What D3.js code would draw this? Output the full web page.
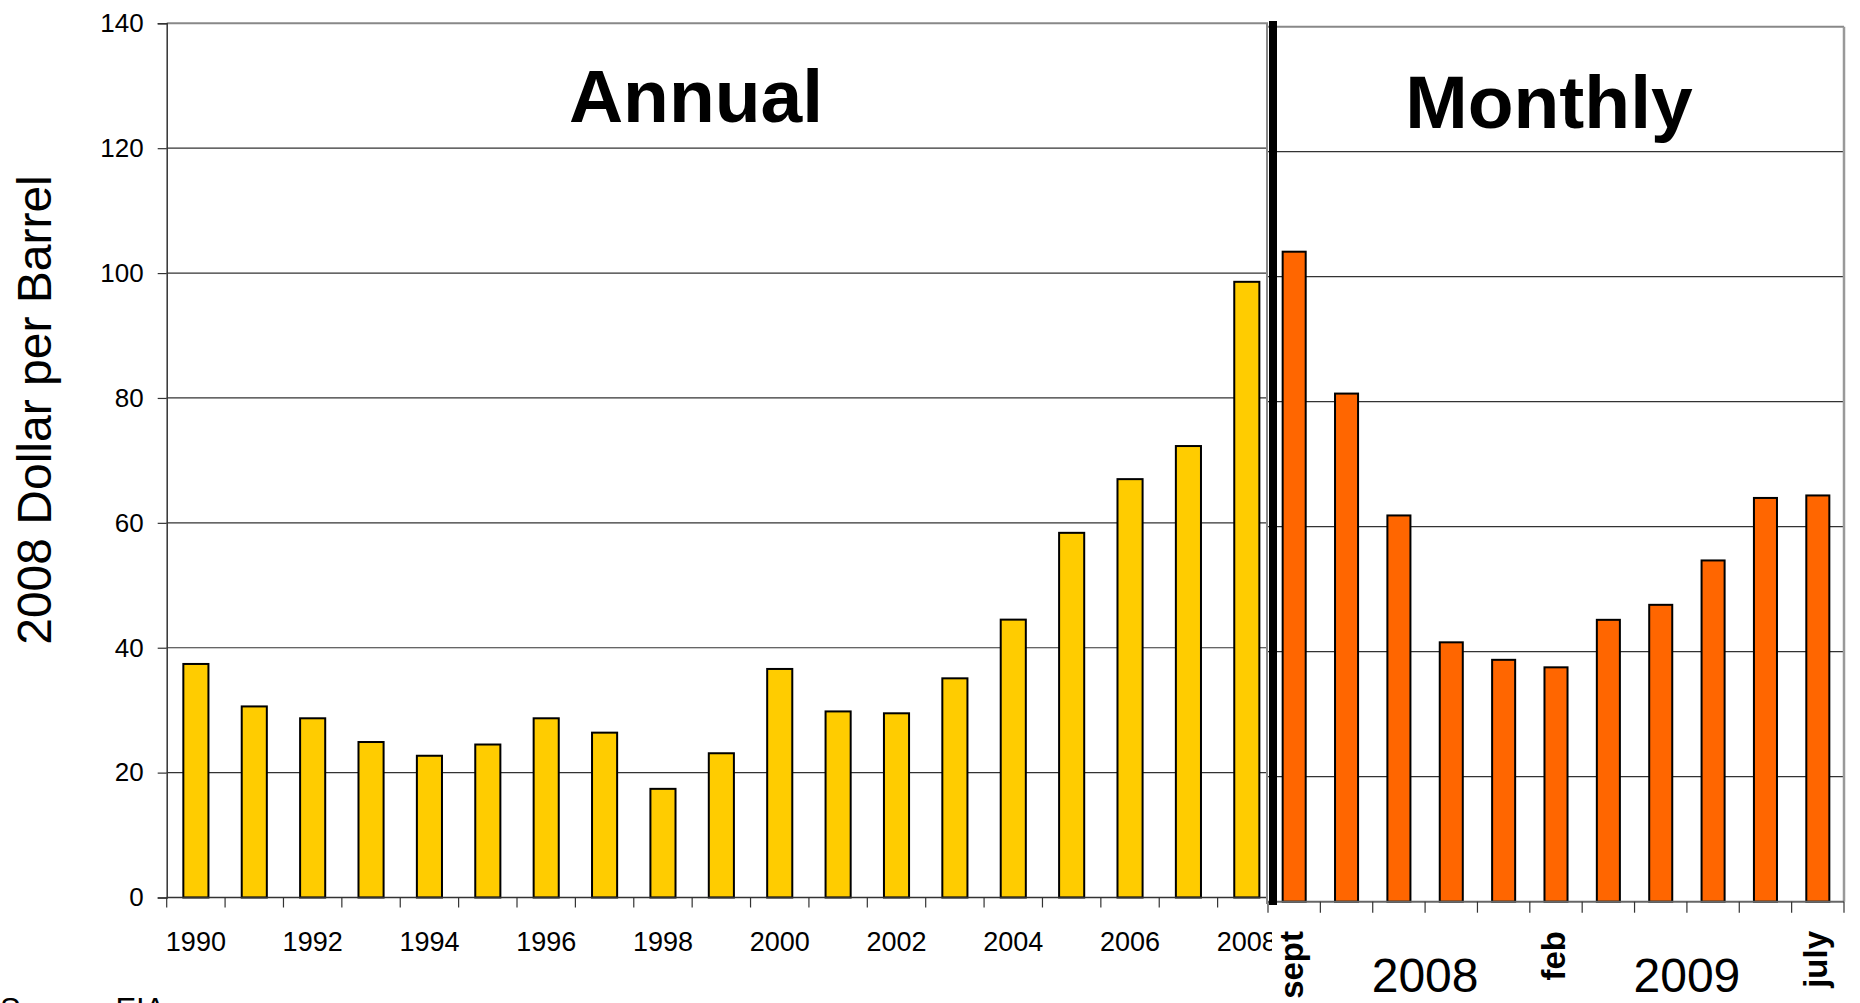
<!DOCTYPE html>
<html>
<head>
<meta charset="utf-8">
<script src="https://cdn.jsdelivr.net/npm/d3@7"></script>
<style>
  html, body { margin: 0; padding: 0; background: #fff; overflow: hidden; }
  svg { display: block; font-family: "Liberation Sans", Arial, sans-serif; }
</style>
</head>
<body>
<svg id="chart" width="1860" height="1003"></svg>
<script>
// Oil price in 2008 dollars per barrel
const years = ["1990","1991","1992","1993","1994","1995","1996","1997","1998","1999",
               "2000","2001","2002","2003","2004","2005","2006","2007","2008"];
const annualPrice = [37.4, 30.6, 28.7, 24.9, 22.7, 24.5, 28.7, 26.4, 17.4, 23.1,
                     36.6, 29.8, 29.5, 35.1, 44.5, 58.4, 67.0, 72.3, 98.6];
const yearTickLabels = ["1990","1992","1994","1996","1998","2000","2002","2004","2006","2008"];

const months = ["sept","oct","nov","dec","jan","feb","mar","apr","may","jun","july"];
const monthlyPrice = [104.0, 81.3, 61.8, 41.5, 38.7, 37.5, 45.1, 47.5, 54.6, 64.6, 65.0];
const monthTickLabels = ["sept","feb","july"];
// calendar-year captions, each placed after the given month
const yearCaptions = ["2008","2009"];
const yearCaptionAfter = ["nov","apr"];

const yTicks = [0, 20, 40, 60, 80, 100, 120, 140];

const svg = d3.select("#chart");
const FONT = "'Liberation Sans', Arial, sans-serif";

// ---------- Annual panel ----------
// the category band runs slightly under the monthly panel on the right
const L = { left: 166.7, right: 1268, bandRight: 1276, top: 23.3, bottom: 897.5 };
const xA = d3.scaleBand().domain(years).range([L.left, L.bandRight])
  .paddingInner(0.57).paddingOuter(0.285);
const yA = d3.scaleLinear().domain([0, 140]).range([L.bottom, L.top]);

const gA = svg.append("g");

// horizontal gridlines
gA.append("g").selectAll("line").data(yTicks.filter(d => d > 0 && d < 140)).join("line")
  .attr("x1", L.left).attr("x2", L.right)
  .attr("y1", d => yA(d)).attr("y2", d => yA(d))
  .attr("stroke", "#333").attr("stroke-width", 1.2);
// top frame line
gA.append("line").attr("x1", L.left).attr("x2", L.right)
  .attr("y1", yA(140)).attr("y2", yA(140))
  .attr("stroke", "#888").attr("stroke-width", 2);

// bars
gA.append("g").selectAll("rect").data(years).join("rect")
  .attr("x", d => xA(d))
  .attr("width", xA.bandwidth())
  .attr("y", (d, i) => yA(annualPrice[i]))
  .attr("height", (d, i) => yA(0) - yA(annualPrice[i]))
  .attr("fill", "#FFCC00")
  .attr("stroke", "#000").attr("stroke-width", 2);

// y axis
const yAxis = d3.axisLeft(yA).tickValues(yTicks).tickSize(9).tickPadding(14)
  .tickFormat(d3.format("d"));
const gy = gA.append("g").attr("transform", `translate(${L.left},0)`).call(yAxis);
gy.select(".domain").attr("stroke", "#333").attr("stroke-width", 1.5);
gy.selectAll(".tick line").attr("stroke", "#333").attr("stroke-width", 1.2);
gy.selectAll(".tick text").attr("font-size", 26).attr("font-family", FONT).attr("fill", "#000");

// x axis line with ticks between categories
gA.append("line").attr("x1", L.left).attr("x2", L.right)
  .attr("y1", L.bottom).attr("y2", L.bottom)
  .attr("stroke", "#333").attr("stroke-width", 1.5);
const stepA = xA.step();
const boundsA = years.map(d => xA(d) + xA.bandwidth() / 2 - stepA / 2);
gA.append("g").selectAll("line").data(boundsA).join("line")
  .attr("x1", d => d).attr("x2", d => d)
  .attr("y1", L.bottom).attr("y2", L.bottom + 10)
  .attr("stroke", "#333").attr("stroke-width", 1.2);
gA.append("g").selectAll("text").data(yearTickLabels).join("text")
  .attr("x", d => xA(d) + xA.bandwidth() / 2)
  .attr("y", 951)
  .attr("text-anchor", "middle")
  .attr("font-size", 27).attr("font-family", FONT)
  .text(d => d);

// panel title
gA.append("text").attr("x", 696).attr("y", 122)
  .attr("text-anchor", "middle").attr("font-size", 75).attr("font-weight", "bold")
  .attr("font-family", FONT).text("Annual");

// y axis title
svg.append("text")
  .attr("transform", "translate(51,410) rotate(-90)")
  .attr("text-anchor", "middle")
  .attr("font-size", 48).attr("font-family", FONT)
  .text("2008 Dollar per Barrel");

// source note, running off the bottom edge
svg.append("text").attr("x", 0).attr("y", 1020)
  .attr("font-size", 31).attr("font-family", FONT)
  .text("Source: EIA");

// ---------- Monthly panel ----------
const R = { left: 1268, right: 1844, top: 26.7, bottom: 901.7 };
const xM = d3.scaleBand().domain(months).range([R.left, R.right])
  .paddingInner(0.56).paddingOuter(0.28);
const yM = d3.scaleLinear().domain([0, 140]).range([R.bottom, R.top]);

const gM = svg.append("g");
// panel background
gM.append("rect").attr("x", 1272).attr("y", 0)
  .attr("width", 1860 - 1272).attr("height", 1003).attr("fill", "#fff");

gM.append("g").selectAll("line").data(yTicks.filter(d => d > 0 && d < 140)).join("line")
  .attr("x1", R.left).attr("x2", R.right)
  .attr("y1", d => yM(d)).attr("y2", d => yM(d))
  .attr("stroke", "#333").attr("stroke-width", 1.2);
// frame
gM.append("line").attr("x1", R.left).attr("x2", R.right)
  .attr("y1", yM(140)).attr("y2", yM(140))
  .attr("stroke", "#888").attr("stroke-width", 2);
gM.append("line").attr("x1", R.right).attr("x2", R.right)
  .attr("y1", yM(140)).attr("y2", R.bottom)
  .attr("stroke", "#999").attr("stroke-width", 2.5);

gM.append("g").selectAll("rect").data(months).join("rect")
  .attr("x", d => xM(d))
  .attr("width", xM.bandwidth())
  .attr("y", (d, i) => yM(monthlyPrice[i]))
  .attr("height", (d, i) => yM(0) - yM(monthlyPrice[i]))
  .attr("fill", "#FF6600")
  .attr("stroke", "#000").attr("stroke-width", 2);

// x axis
gM.append("line").attr("x1", R.left).attr("x2", R.right)
  .attr("y1", R.bottom).attr("y2", R.bottom)
  .attr("stroke", "#666").attr("stroke-width", 2);
const stepM = xM.step();
const boundsM = months.map(d => xM(d) + xM.bandwidth() / 2 - stepM / 2).concat([R.right]);
gM.append("g").selectAll("line").data(boundsM).join("line")
  .attr("x1", d => d).attr("x2", d => d)
  .attr("y1", R.bottom).attr("y2", R.bottom + 11)
  .attr("stroke", "#333").attr("stroke-width", 1.2);

gM.append("g").selectAll("text").data(monthTickLabels).join("text")
  .attr("transform", d => `translate(${xM(d) + xM.bandwidth() / 2 + 9},931) rotate(-90)`)
  .attr("text-anchor", "end")
  .attr("font-size", 33).attr("font-weight", "bold").attr("font-family", FONT)
  .text(d => d);

gM.append("g").selectAll("text").data(yearCaptions).join("text")
  .attr("x", (d, i) => xM(yearCaptionAfter[i]) + xM.bandwidth() / 2 + stepM / 2)
  .attr("y", 992)
  .attr("text-anchor", "middle")
  .attr("font-size", 48).attr("font-family", FONT)
  .text(d => d);

gM.append("text").attr("x", 1549).attr("y", 128)
  .attr("text-anchor", "middle").attr("font-size", 75).attr("font-weight", "bold")
  .attr("font-family", FONT).text("Monthly");

// divider between the two panels
svg.append("line").attr("x1", 1267).attr("x2", 1267)
  .attr("y1", 23).attr("y2", 904)
  .attr("stroke", "#888").attr("stroke-width", 2);
svg.append("line").attr("x1", 1273).attr("x2", 1273)
  .attr("y1", 21).attr("y2", 905)
  .attr("stroke", "#000").attr("stroke-width", 8);
</script>
</body>
</html>
